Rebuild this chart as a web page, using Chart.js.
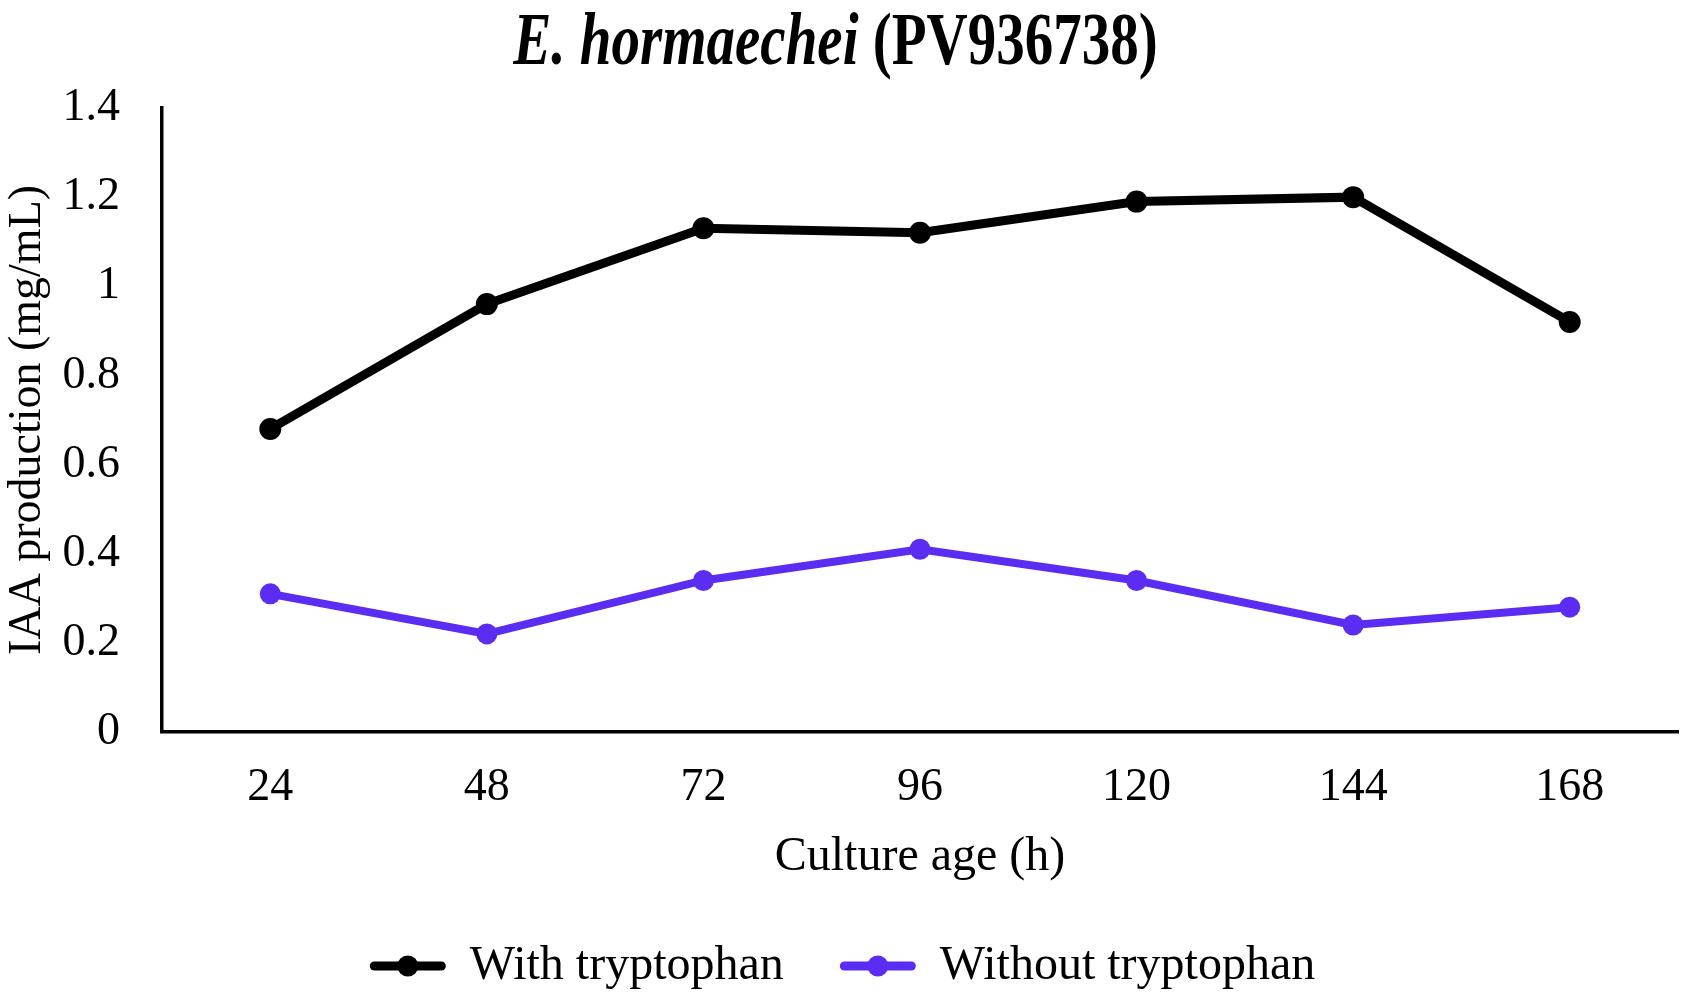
<!DOCTYPE html>
<html lang="en">
<head>
    <meta charset="UTF-8">
    <title>IAA production - E. hormaechei</title>
    <script src="https://cdn.jsdelivr.net/npm/chart.js"></script>
    <style>
        body {
            margin: 0;
            background: #fff;
            font-family: "Liberation Serif", "Times New Roman", serif;
        }
        .wrap {
            position: relative;
            width: 1689px;
            height: 1002px;
        }
        .chart-title {
            position: absolute;
            top: 5px;
            left: 0;
            width: 1689px;
            padding-right: 18px;
            box-sizing: border-box;
            text-align: center;
            font-weight: bold;
            font-size: 57px;
            line-height: 70px;
            color: #000;
            transform: scaleY(1.28);
            z-index: 2;
        }
        canvas {
            position: absolute;
            top: 0;
            left: 0;
        }
    </style>
</head>
<body>
    <div class="wrap">
        <div class="chart-title"><i>E. hormaechei</i> (PV936738)</div>
        <canvas id="iaaChart" width="1689" height="1002"></canvas>
    </div>

    <script>
        // culture age (h)
        const cultureAge = ['24', '48', '72', '96', '120', '144', '168'];
        // IAA production (mg/mL)
        const withTryptophan = [0.68, 0.96, 1.13, 1.12, 1.19, 1.20, 0.92];
        const withoutTryptophan = [0.31, 0.22, 0.34, 0.41, 0.34, 0.24, 0.28];
        const yTicks = [0, 0.2, 0.4, 0.6, 0.8, 1, 1.2, 1.4];

        const serif = '"Liberation Serif", "Times New Roman", serif';
        const black = '#000000';
        const purple = '#5b2cf2';
        const sampleWidth = 76;

        // legend: fixed box height, and a round marker on each line sample
        const legendTweaks = {
            id: 'legendTweaks',
            beforeLayout(chart) {
                const legend = chart.legend;
                if (!legend || legend._fixedFit) return;
                const origFit = legend.fit.bind(legend);
                legend.fit = function () {
                    origFit();
                    this.height = 116;
                };
                legend._fixedFit = true;
            },
            afterDraw(chart) {
                const legend = chart.legend;
                if (!legend || !legend.legendHitBoxes) return;
                const ctx = chart.ctx;
                legend.legendHitBoxes.forEach((box, i) => {
                    ctx.save();
                    ctx.fillStyle = chart.data.datasets[i].borderColor;
                    ctx.beginPath();
                    ctx.arc(box.left + sampleWidth / 2, box.top + box.height / 2, 10.5, 0, Math.PI * 2);
                    ctx.fill();
                    ctx.restore();
                });
            }
        };

        new Chart(document.getElementById('iaaChart'), {
            type: 'line',
            data: {
                labels: cultureAge,
                datasets: [
                    {
                        label: 'With tryptophan',
                        data: withTryptophan,
                        borderColor: black,
                        backgroundColor: black,
                        borderWidth: 9,
                        pointRadius: 11,
                        pointBackgroundColor: black,
                        pointBorderWidth: 0,
                        tension: 0
                    },
                    {
                        label: 'Without tryptophan',
                        data: withoutTryptophan,
                        borderColor: purple,
                        backgroundColor: purple,
                        borderWidth: 8,
                        pointRadius: 10.5,
                        pointBackgroundColor: purple,
                        pointBorderWidth: 0,
                        tension: 0
                    }
                ]
            },
            options: {
                responsive: false,
                animation: false,
                devicePixelRatio: 1,
                layout: {
                    padding: { top: 108, right: 4, left: 0, bottom: 0 }
                },
                scales: {
                    x: {
                        offset: true,
                        afterFit(axis) { axis.height = 154; },
                        grid: { display: false, drawTicks: false },
                        border: { display: true, color: black, width: 3.5 },
                        ticks: {
                            color: black,
                            padding: 28,
                            font: { family: serif, size: 46 }
                        },
                        title: {
                            display: true,
                            text: 'Culture age (h)',
                            color: black,
                            padding: { top: 0, bottom: 0 },
                            font: { family: serif, size: 48 }
                        }
                    },
                    y: {
                        min: 0,
                        max: 1.4,
                        afterBuildTicks(axis) {
                            axis.ticks = yTicks.map(v => ({ value: v }));
                        },
                        afterFit(axis) { axis.width = 162; },
                        grid: { display: false, drawTicks: false },
                        border: { display: true, color: black, width: 3.5 },
                        ticks: {
                            color: black,
                            padding: 42,
                            font: { family: serif, size: 46 },
                            callback: v => String(v)
                        },
                        title: {
                            display: true,
                            text: 'IAA production (mg/mL)',
                            color: black,
                            padding: { top: 0, bottom: 0 },
                            font: { family: serif, size: 46 }
                        }
                    }
                },
                plugins: {
                    title: { display: false },
                    tooltip: { enabled: false },
                    legend: {
                        position: 'bottom',
                        labels: {
                            color: black,
                            font: { family: serif, size: 48 },
                            boxWidth: sampleWidth,
                            boxHeight: 9,
                            padding: 56,
                            useBorderRadius: true,
                            borderRadius: 4.5,
                            generateLabels(chart) {
                                const items = Chart.defaults.plugins.legend.labels.generateLabels(chart);
                                items.forEach(it => { it.lineWidth = 0; });
                                return items;
                            }
                        }
                    }
                }
            },
            plugins: [legendTweaks]
        });
    </script>
</body>
</html>
